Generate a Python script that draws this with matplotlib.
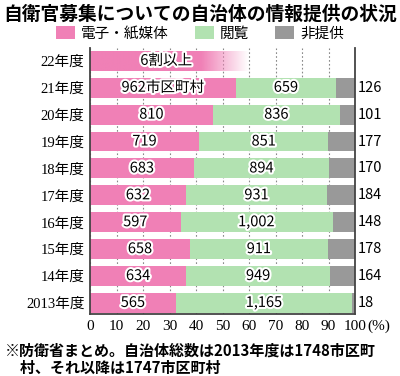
import matplotlib
matplotlib.use('Agg')
import matplotlib.pyplot as plt
import matplotlib.patheffects as pe
from matplotlib.colors import to_rgb
import numpy as np

plt.rcParams['font.family'] = ['Noto Sans CJK JP', 'DejaVu Sans']

# Data
years = ['22年度', '21年度', '20年度', '19年度', '18年度', '17年度',
         '16年度', '15年度', '14年度', '2013年度']
media = [None, 962, 810, 719, 683, 632, 597, 658, 634, 565]
browse = [None, 659, 836, 851, 894, 931, 1002, 911, 949, 1165]
none_ = [None, 126, 101, 177, 170, 184, 148, 178, 164, 18]
share_22 = 60  # 6割以上 (percent)
series_names = ['電子・紙媒体', '閲覧', '非提供']
xticks = [0, 10, 20, 30, 40, 50, 60, 70, 80, 90, 100]

c_pink = '#f080b6'
c_green = '#b2e2b1'
c_gray = '#999999'

fig = plt.figure(figsize=(4.0, 3.76), dpi=100)
ax = fig.add_axes([0.225, 0.165, 0.6625, 0.7075])

h = 0.74
stroke = [pe.withStroke(linewidth=3, foreground='white')]
rows = list(range(len(years)))

# 22年度: gradient bar fading out toward 6割
rgb = np.array(to_rgb(c_pink))
n = 200
alpha = np.clip((1.0 - np.linspace(0, 1, n)) / 0.3, 0, 1)
img = np.ones((1, n, 4))
img[0, :, :3] = rgb
img[0, :, 3] = alpha
ax.imshow(img, extent=(0, share_22, h / 2, -h / 2), aspect='auto', zorder=2)
ax.text(share_22 * 0.48, 0, '6割以上', ha='center', va='center',
        fontsize=10.5, zorder=5, path_effects=stroke)

ys = rows[1:]
tot = [m + b + g for m, b, g in zip(media[1:], browse[1:], none_[1:])]
pm = [100 * m / t for m, t in zip(media[1:], tot)]
pb = [100 * b / t for b, t in zip(browse[1:], tot)]
pg = [100 * g / t for g, t in zip(none_[1:], tot)]

b1 = ax.barh(ys, pm, height=h, color=c_pink, zorder=2, label=series_names[0])
b2 = ax.barh(ys, pb, left=pm, height=h, color=c_green, zorder=2, label=series_names[1])
left3 = [a + b for a, b in zip(pm, pb)]
b3 = ax.barh(ys, pg, left=left3, height=h, color=c_gray, zorder=2, label=series_names[2])

for i, y in enumerate(ys):
    lab = f'{media[i + 1]:,}'
    if y == 1:
        lab += '市区町村'
    ax.text(pm[i] / 2, y, lab, ha='center', va='center', fontsize=10.5,
            zorder=5, path_effects=stroke)
    ax.text(pm[i] + pb[i] / 2, y, f'{browse[i + 1]:,}', ha='center',
            va='center', fontsize=10.5, zorder=5, path_effects=stroke)
    ax.text(101, y, f'{none_[i + 1]}', ha='left', va='center',
            fontsize=10.5, clip_on=False)

ax.set_xlim(0, 100)
ax.set_ylim(9.41, -0.48)
ax.set_yticks(rows)
ax.set_yticklabels(years, family=['Liberation Serif', 'Noto Sans CJK JP'],
                   fontsize=10.5)
ax.set_xticks(xticks)
ax.set_xticklabels([str(t) for t in xticks], family='Liberation Serif',
                   fontsize=11)
ax.text(104.6, -0.021, '(%)', transform=ax.get_xaxis_transform(),
        ha='left', va='top', family='Liberation Serif', fontsize=11)
ax.tick_params(length=0, pad=4)
ax.xaxis.grid(True, linestyle=(0, (1.5, 2)), color='#888888', linewidth=0.8)
ax.set_axisbelow(True)
ax.spines['top'].set_visible(False)
for s in ['left', 'right', 'bottom']:
    ax.spines[s].set_color('#444444')
    ax.spines[s].set_linewidth(1.3)

fig.text(0.5, 0.962, '自衛官募集についての自治体の情報提供の状況',
         ha='center', va='center', fontsize=13.5, fontweight='bold')
fig.legend(handles=[b1, b2, b3], loc='center', bbox_to_anchor=(0.5, 0.912),
           ncol=3, frameon=False, fontsize=10.5, handlelength=1.3,
           handleheight=1.0, columnspacing=1.8, handletextpad=0.4,
           borderaxespad=0)

fig.text(0.012, 0.068, '※防衛省まとめ。自治体総数は2013年度は1748市区町',
         ha='left', va='center', fontsize=10.8, fontweight='bold')
fig.text(0.012, 0.022, '　村、それ以降は1747市区町村',
         ha='left', va='center', fontsize=10.8, fontweight='bold')

fig.savefig('out.png', dpi=100)
